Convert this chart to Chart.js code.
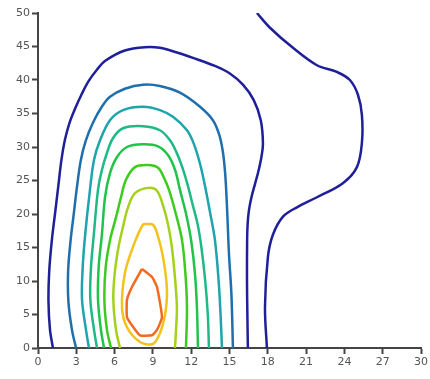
<!DOCTYPE html>
<html>
<head>
<meta charset="utf-8">
<script src="https://cdn.jsdelivr.net/npm/chart.js@4"></script>
<style>
  html, body { margin: 0; padding: 0; background: #fff; }
  #wrap { width: 430px; height: 379px; }
</style>
</head>
<body>
<div id="wrap"><canvas id="contour-canvas" width="430" height="379"></canvas></div>
<script>
// contour lines, outermost first as [x, y]
const navyOuter = [[1.17,0],[0.94,2.7],[0.82,7],[0.88,11.5],[1.08,16],[1.33,20],[1.58,24],[1.83,28],[2.1,31],[2.45,33.5],[2.9,35.7],[3.4,37.8],[3.95,39.8],[4.6,41.5],[5.3,42.9],[6.8,44.4],[8.38,44.9],[9.55,44.8],[10.88,44.1],[12.14,43.3],[13.86,42.1],[15.0,41],[16.05,39.3],[16.9,37],[17.45,34],[17.62,30.5],[17.5,28.5],[17.28,26.5],[17.0,24.5],[16.72,22.5],[16.52,20.5],[16.42,18.5],[16.38,16],[16.37,10],[16.4,5],[16.44,0]]
const navyRight = [[17.15,50],[18.17,47.8],[19.97,44.8],[21.85,42.2],[23.41,41.2],[24.43,40],[25.06,37.8],[25.37,34.8],[25.37,30.6],[24.98,27],[23.88,24.6],[21.85,22.5],[20.28,21],[19.19,19.6],[18.4,16.9],[18.01,13.6],[17.78,6.1],[17.93,0]]
const blue = [[2.98,0],[2.66,2.7],[2.38,7],[2.36,11.5],[2.55,16],[2.8,20],[3.05,24],[3.35,28],[3.75,31],[4.35,33.8],[5.0,36],[5.64,37.5],[6.81,38.7],[8.22,39.3],[9.55,39.1],[11.12,38.1],[12.69,36],[13.7,34],[14.2,31.8],[14.48,29.3],[14.64,26.5],[14.74,23.6],[14.85,19],[14.96,14],[15.15,8],[15.27,0]]
const teal = [[3.99,0],[3.76,2.7],[3.45,7.2],[3.5,12],[3.7,17],[4.07,23.6],[4.39,28.1],[4.86,31],[5.64,34],[6.66,35.5],[8.22,36],[9.55,35.5],[10.57,34.5],[11.67,32.5],[12.2,30.5],[12.69,27.5],[13.1,24],[13.5,20],[13.86,16.1],[14.15,10],[14.3,5],[14.41,0]]
const tealGreen = [[4.62,0],[4.39,2.7],[4.1,7.2],[4.15,12],[4.4,17.5],[4.7,23.6],[5.01,26.6],[5.4,29.1],[5.87,31.3],[6.66,32.8],[8.22,33.1],[9.55,32.5],[10.34,31],[10.85,29.2],[11.3,27],[11.7,24.5],[12.1,21.5],[12.5,18.5],[12.8,15],[13.1,10],[13.3,5],[13.39,0]]
const green1 = [[5.17,0],[4.93,2.7],[4.7,7.2],[4.75,12],[5.01,17],[5.25,22.5],[5.64,26.1],[6.19,28.5],[6.97,30],[8.22,30.4],[9.4,30.1],[10.18,28.8],[10.73,26.6],[11.12,23.6],[11.6,20],[12.0,16],[12.3,11],[12.45,6],[12.53,0]]
const green2 = [[5.72,0],[5.4,2.7],[5.2,7.2],[5.3,12],[5.64,16.1],[6.11,19.5],[6.5,22.5],[6.89,25.1],[7.6,27],[8.61,27.3],[9.4,26.9],[9.87,25.4],[10.26,23.6],[10.8,20],[11.28,16.1],[11.55,11],[11.67,6],[11.59,0]]
const lime = [[6.42,0],[6.11,2.7],[5.9,7.2],[6.0,11],[6.3,15],[6.66,18.1],[7.05,21],[7.6,23.1],[8.61,23.9],[9.3,23.5],[9.79,21.3],[10.18,18.5],[10.49,15],[10.75,10],[10.88,6],[10.81,2.7],[10.73,0]]
const yellow = [[8.6,18.5],[9.0,18.4],[9.32,17.2],[9.79,13.6],[10.1,8.7],[9.95,4.9],[9.55,2.2],[9.0,0.6],[7.99,0.9],[6.97,3.1],[6.58,6.1],[6.81,11.2],[7.44,15.1],[8.22,18.4],[8.6,18.5]]
const orange = [[8.14,11.8],[8.93,10.6],[9.32,9.1],[9.71,4.6],[9.32,2.7],[8.93,1.9],[7.99,1.9],[7.36,3.4],[6.97,4.6],[6.97,7.2],[7.36,9.1],[8.14,11.8]]

const contours = [navyOuter, navyRight, blue, teal, tealGreen, green1, green2, lime, yellow, orange]
const colors = ['#1f1f99','#1f1f99','#1f6fad','#1fa3ad','#1fba84','#22c34a','#3ccb1e','#a5d11c','#f2c21f','#f26a1f']
const tensions = [0.35,0.35,0.35,0.35,0.35,0.35,0.35,0.35,0.3,0.15]

const context = document.getElementById('contour-canvas').getContext('2d')

const myChart = new Chart(context, {
	type: 'scatter',
	data: {
		datasets: contours.map((pts, i) => ({
			data: pts.map(p => ({ x: p[0], y: p[1] })),
			showLine: true,
			borderColor: colors[i],
			borderWidth: 2.5,
			pointRadius: 0,
			tension: tensions[i],
			fill: false
		}))
	},
	options: {
		responsive: false,
		animation: false,
		layout: { padding: { top: 13, right: 9, left: 0, bottom: 0 } },
		plugins: { legend: { display: false }, tooltip: { enabled: false } },
		scales: {
			x: {
				type: 'linear',
				position: 'bottom',
				min: 0,
				max: 30,
				afterFit: s => { s.height = 31 },
				ticks: { stepSize: 3, color: '#555', padding: 2, font: { family: 'DejaVu Sans', size: 11 } },
				grid: { drawOnChartArea: false, drawTicks: true, tickLength: 6, tickColor: '#444', tickWidth: 2 },
				border: { color: '#444', width: 2 }
			},
			y: {
				type: 'linear',
				position: 'left',
				min: 0,
				max: 50,
				afterFit: s => { s.width = 38 },
				ticks: { stepSize: 5, color: '#555', padding: 2, font: { family: 'DejaVu Sans', size: 11 } },
				grid: { drawOnChartArea: false, drawTicks: true, tickLength: 6, tickColor: '#444', tickWidth: 2 },
				border: { color: '#444', width: 2 }
			}
		}
	}
})
</script>
</body>
</html>
